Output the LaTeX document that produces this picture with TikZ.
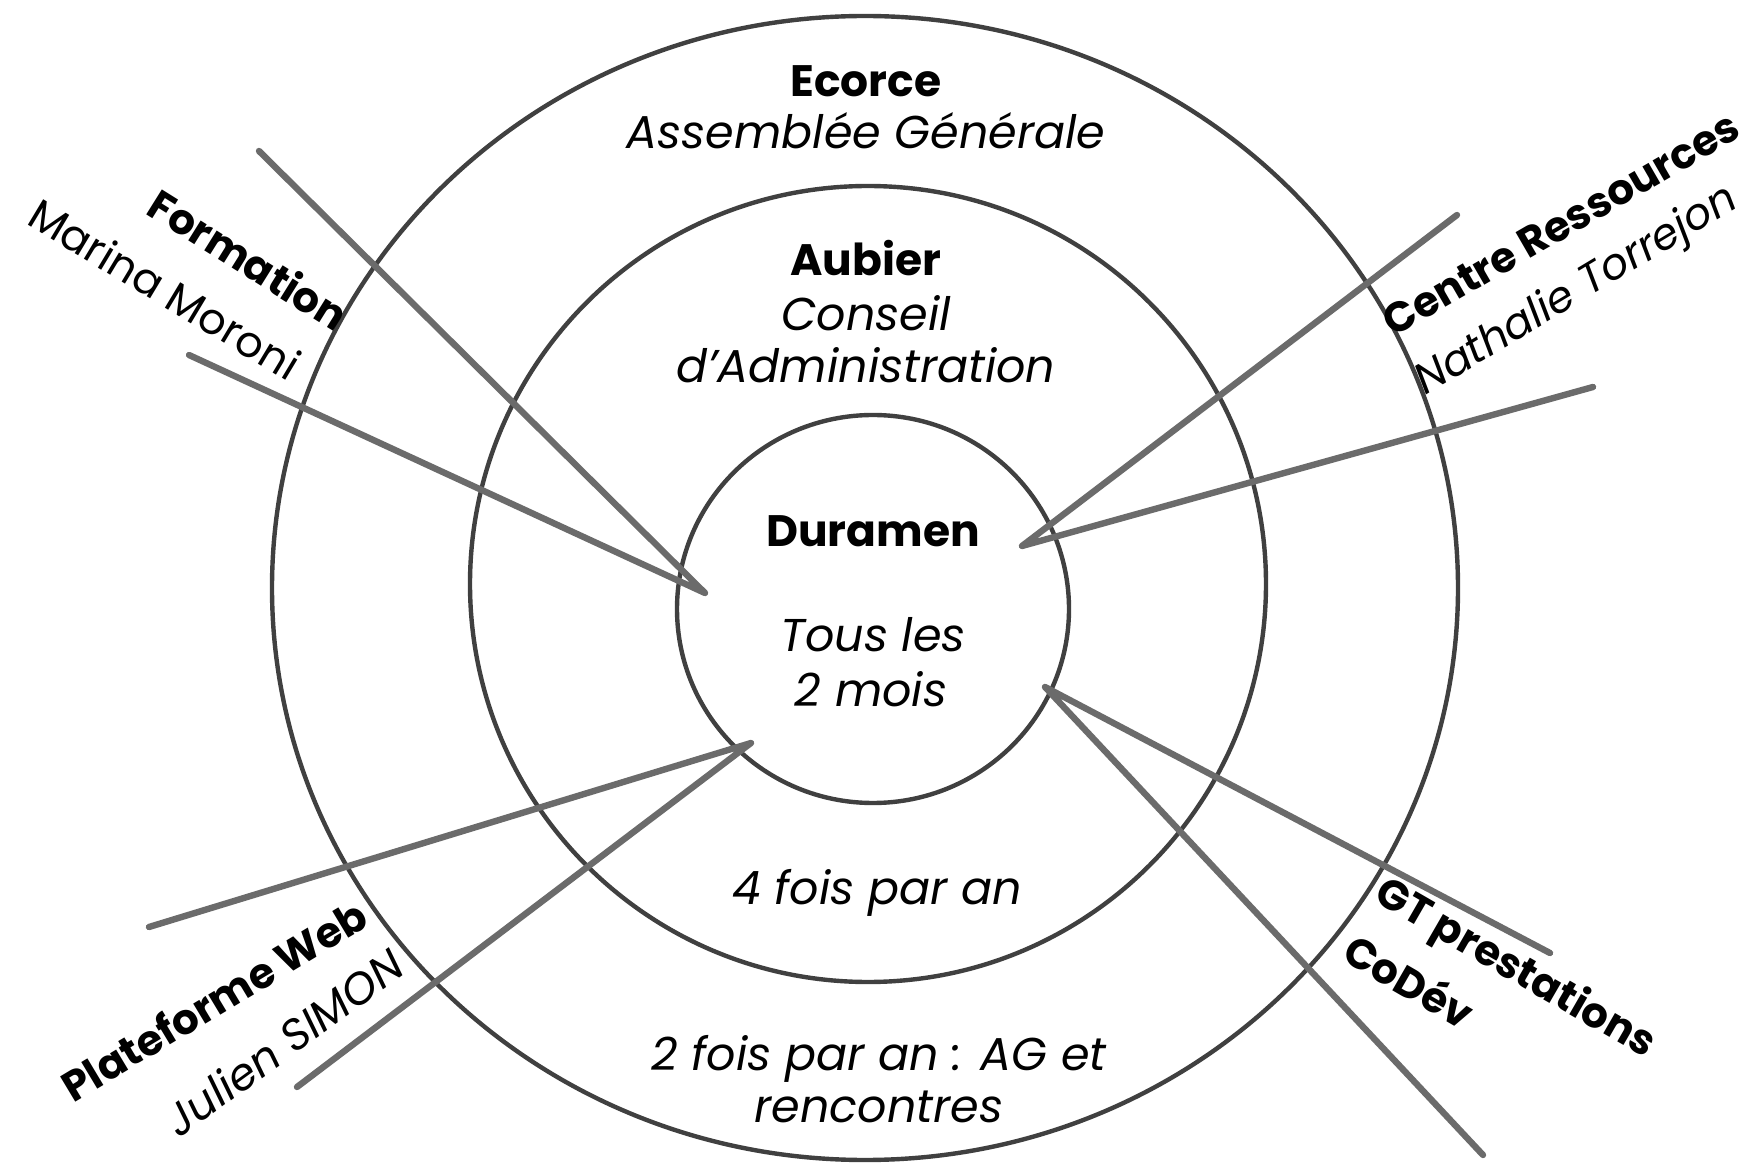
\documentclass[tikz,border=0pt]{standalone}
\usepackage{fontspec}
\setmainfont{Poppins}
\usepackage{tikz}
\definecolor{ringgray}{HTML}{404040}
\definecolor{wedgegray}{HTML}{6B6B6B}

\tikzset{
  ring/.style={draw=ringgray, line width=2.2pt},
  wedge/.style={draw=wedgegray, line width=3.2pt, line cap=round, line join=round},
  ringtitle/.style={font=\fontsize{22}{26}\selectfont\bfseries, inner sep=0pt, anchor=base},
  ringnote/.style={font=\fontsize{23}{27}\selectfont\itshape, inner sep=0pt, anchor=base},
  teamtitle/.style={font=\fontsize{21}{25}\selectfont\bfseries, inner sep=0pt},
  teamname/.style={font=\fontsize{21.5}{25}\selectfont, inner sep=0pt},
}

\begin{document}
\begin{tikzpicture}[x=0.5pt,y=-0.5pt]
\useasboundingbox[fill=white] (0,0) rectangle (1763,1165);
% rings of the trunk
\draw[ring] (865,588) ellipse [x radius=593, y radius=572];
\draw[ring] (868,584) ellipse [x radius=398, y radius=398];
\draw[ring] (873,609) ellipse [x radius=196, y radius=194];

% wedges pointing to the heart
\coordinate (form-tip) at (705,593);
\coordinate (form-top) at (259,151);
\coordinate (form-bot) at (189,355);
\coordinate (res-tip) at (1022,546);
\coordinate (res-top) at (1457,215);
\coordinate (res-bot) at (1593,387);
\coordinate (web-tip) at (751,743);
\coordinate (web-top) at (149,927);
\coordinate (web-bot) at (297,1087);
\coordinate (gt-tip) at (1045,687);
\coordinate (gt-top) at (1550,953);
\coordinate (gt-bot) at (1483,1155);
\foreach \w in {form,res,web,gt}
    \draw[wedge] (\w-top) -- (\w-tip) -- (\w-bot);

% texts of the rings
\node[ringtitle] (ecorce) at (866,97) {Ecorce};
\node[ringnote] (ag) at (866,149) {Assemblée Générale};
\node[ringtitle] (aubier) at (866,276) {Aubier};
\node[ringnote] (ca1) at (866,331) {Conseil};
\node[ringnote] (ca2) at (866,383) {d’Administration};
\node[ringtitle] (duramen) at (873,547) {Duramen};
\node[ringnote] (freq1) at (873,652) {Tous les};
\node[ringnote] (freq2) at (871,707) {2 mois};
\node[ringnote] (freq3) at (877,905) {4 fois par an};
\node[ringnote] (freq4) at (879,1070) {2 fois par an : AG et};
\node[ringnote] (freq5) at (879,1122) {rencontres};

% teams
\node[teamtitle, rotate=-32] (formation) at (249,259) {Formation};
\node[teamname, rotate=-31] (marina) at (165,289) {Marina Moroni};
\node[teamtitle, rotate=30] (centre) at (1561,224) {Centre Ressources};
\node[teamname, font=\fontsize{21.5}{25}\selectfont\itshape, rotate=31] (nathalie) at (1577,292) {Nathalie Torrejon};
\node[teamtitle, rotate=31] (plateforme) at (214,1000) {Plateforme Web};
\node[teamname, font=\fontsize{22}{25}\selectfont\itshape, rotate=36] (julien) at (284,1042) {Julien SIMON};
\node[teamtitle, rotate=-30] (gt) at (1515,970) {GT prestations};
\node[teamtitle, rotate=-30] (codev) at (1410,980) {CoDév};
\end{tikzpicture}
\end{document}
